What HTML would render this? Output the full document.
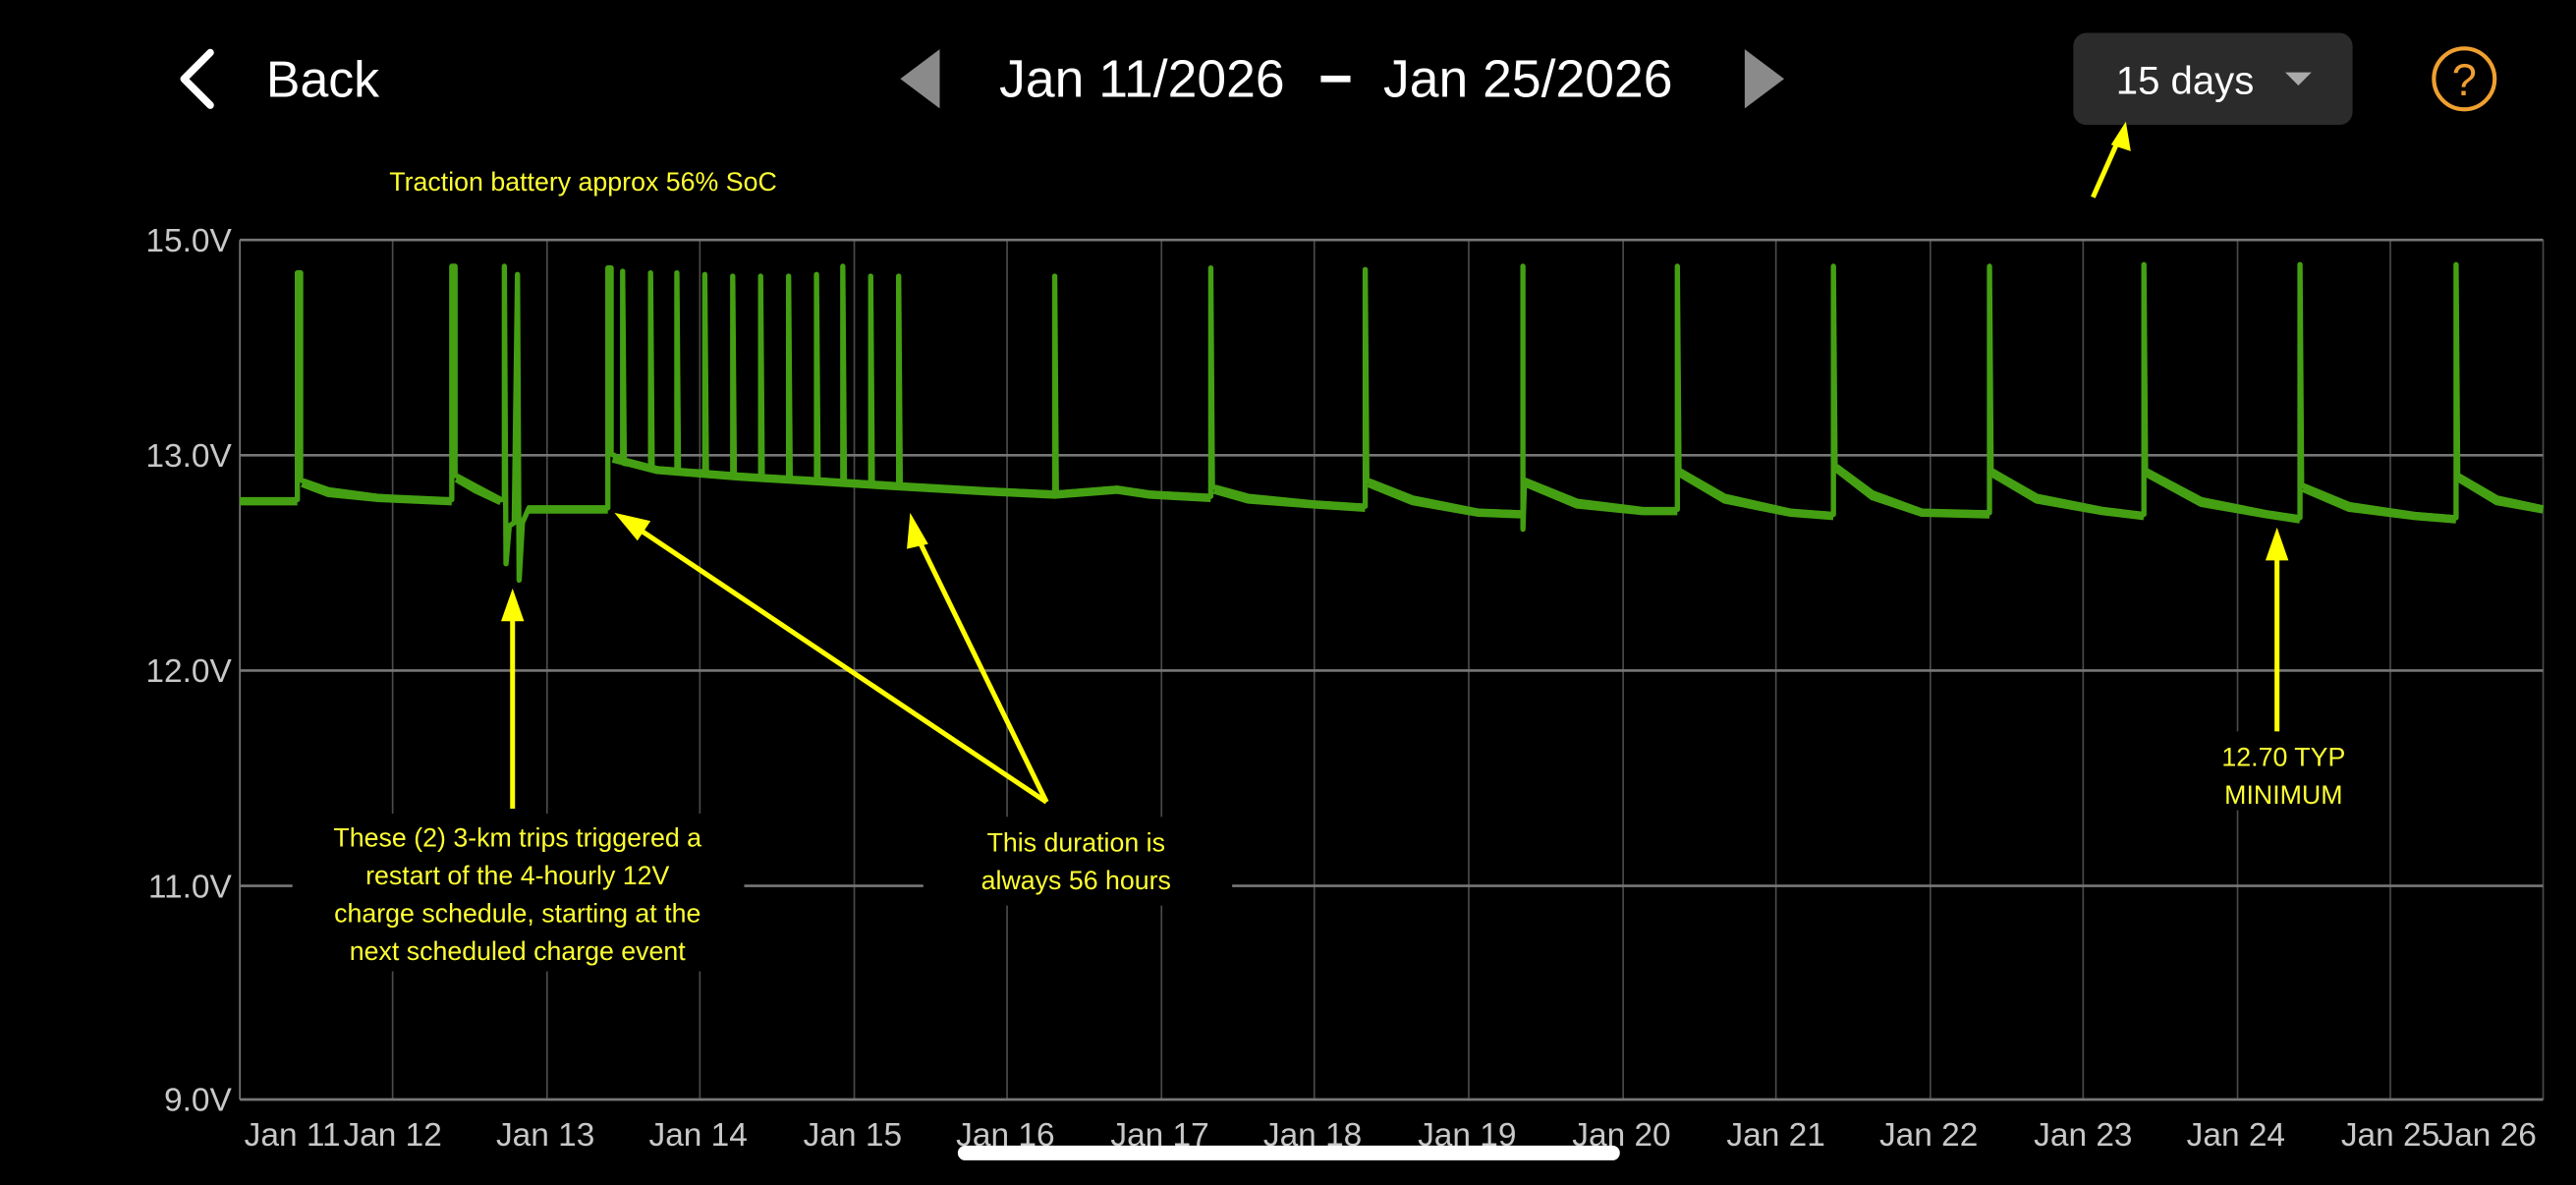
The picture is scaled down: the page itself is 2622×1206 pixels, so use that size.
<!DOCTYPE html>
<html><head><meta charset="utf-8"><style>
html,body{margin:0;padding:0;background:#000;overflow:hidden}
svg{display:block}
text{font-family:"Liberation Sans",sans-serif}
</style></head><body>
<svg width="2622" height="1206" viewBox="0 0 1568 721" preserveAspectRatio="none" xmlns="http://www.w3.org/2000/svg">
<rect width="1568" height="721" fill="#000"/>
<polyline points="128,32 112,48 128,64" fill="none" stroke="#fff" stroke-width="4.5" stroke-linecap="round" stroke-linejoin="round"/>
<text x="162" y="59" fill="#fff" font-size="31">Back</text>
<polygon points="572,30 572,66 548,48" fill="#8a8a8a"/>
<text x="782" y="59" fill="#fff" font-size="32" text-anchor="end">Jan 11/2026</text>
<rect x="804" y="46" width="18" height="4" fill="#fff"/>
<text x="842" y="59" fill="#fff" font-size="32">Jan 25/2026</text>
<polygon points="1062,30 1062,66 1086,48" fill="#8a8a8a"/>
<rect x="1262" y="20" width="170" height="56" rx="8" fill="#2b2b2b"/>
<text x="1288" y="57" fill="#fff" font-size="24">15 days</text>
<polygon points="1391,44 1407,44 1399,52" fill="#aaa"/>
<circle cx="1500" cy="48" r="18.5" fill="none" stroke="#f0a030" stroke-width="2.5"/>
<text x="1500" y="58" fill="#f0a030" font-size="27" text-anchor="middle">?</text>
<text x="237" y="116" fill="#ffff33" font-size="16">Traction battery approx 56% SoC</text>
<g stroke="#4a4a4a" stroke-width="1">
<line x1="239" y1="146" x2="239" y2="669"/><line x1="333" y1="146" x2="333" y2="669"/>
<line x1="426" y1="146" x2="426" y2="669"/><line x1="520" y1="146" x2="520" y2="669"/>
<line x1="613" y1="146" x2="613" y2="669"/><line x1="707" y1="146" x2="707" y2="669"/>
<line x1="800" y1="146" x2="800" y2="669"/><line x1="894" y1="146" x2="894" y2="669"/>
<line x1="988" y1="146" x2="988" y2="669"/><line x1="1081" y1="146" x2="1081" y2="669"/>
<line x1="1175" y1="146" x2="1175" y2="669"/><line x1="1268" y1="146" x2="1268" y2="669"/>
<line x1="1362" y1="146" x2="1362" y2="669"/><line x1="1455" y1="146" x2="1455" y2="669"/>
<line x1="1548" y1="146" x2="1548" y2="669"/>
</g>
<line x1="146" y1="146" x2="146" y2="669" stroke="#777" stroke-width="1"/>
<g stroke="#777" stroke-width="1.6">
<line x1="146" y1="146" x2="1548" y2="146"/><line x1="146" y1="277" x2="1548" y2="277"/>
<line x1="146" y1="408" x2="1548" y2="408"/><line x1="146" y1="539" x2="1548" y2="539"/>
<line x1="146" y1="669" x2="1548" y2="669"/>
</g>
<g fill="#c8c8c8" font-size="20" text-anchor="end">
<text x="141" y="153">15.0V</text><text x="141" y="284">13.0V</text>
<text x="141" y="415">12.0V</text><text x="141" y="546">11.0V</text><text x="141" y="676">9.0V</text>
</g>
<g fill="#c8c8c8" font-size="20" text-anchor="middle">
<text x="178" y="697">Jan 11</text><text x="239" y="697">Jan 12</text><text x="332" y="697">Jan 13</text>
<text x="425" y="697">Jan 14</text><text x="519" y="697">Jan 15</text><text x="612" y="697">Jan 16</text>
<text x="706" y="697">Jan 17</text><text x="799" y="697">Jan 18</text><text x="893" y="697">Jan 19</text>
<text x="987" y="697">Jan 20</text><text x="1081" y="697">Jan 21</text><text x="1174" y="697">Jan 22</text>
<text x="1268" y="697">Jan 23</text><text x="1361" y="697">Jan 24</text><text x="1455" y="697">Jan 25</text>
<text x="1514" y="697">Jan 26</text>
</g>
<g fill="none" stroke="#44a012" stroke-linejoin="round">
<path id="d" stroke-width="3.2" d="M146,304 L181,304 L181,166 L183,166 L183,292 L200,298 L230,302 L260,304 L275,304 L275,162 L277,162 L277,289 L290,296 L305,304 L307,304 L307,162 L308,343 L310,320 L313,318 L315,167 L316,353 L318,318 L322,309 L370,309 L370,163 L372,163 L372,276 L379,280 L379,165 L380,282 L396,284 L396,166 L397,285 L412,286 L412,166 L413,287 L429,287 L429,167 L430,288 L446,289 L446,168 L447,289 L463,290 L463,168 L464,290 L480,291 L480,168 L481,291 L497,292 L497,167 L498,292 L513,293 L513,162 L514,293 L530,294 L530,168 L531,294 L547,295 L547,168 L548,295 L600,298 L642,300 L642,168 L643,300 L680,297 L700,300 L737,302 L737,163 L738,296 L760,302 L800,306 L831,308 L831,164 L832,292 L860,303 L900,311 L927,312 L927,162 L927,322 L928,292 L960,305 L1000,310 L1021,310 L1021,162 L1022,286 L1050,302 L1090,311 L1116,313 L1116,162 L1117,283 L1140,300 L1170,311 L1211,312 L1211,162 L1212,286 L1240,302 L1280,310 L1305,313 L1305,161 L1306,286 L1340,304 L1380,312 L1400,315 L1400,161 L1401,295 L1430,307 L1470,313 L1495,315 L1495,161 L1496,289 L1520,303 L1548,309"/>
<path stroke-width="5" d="M146,305 L181,305 M184,294 L200,300 L230,303 L275,305 M278,291 L290,298 L305,305 M322,310 L370,310 M373,279 L400,286 L450,290 L500,293 L548,296 L600,299 L642,301 L680,298 L700,301 L737,303 M739,298 L760,304 L800,307 L831,309 M833,294 L860,305 L900,312 L927,313 M929,294 L960,307 L1000,311 L1021,311 M1023,288 L1050,304 L1090,312 L1116,314 M1118,285 L1140,302 L1170,312 L1211,313 M1213,288 L1240,304 L1280,311 L1305,314 M1307,288 L1340,306 L1380,313 L1400,316 M1402,297 L1430,309 L1470,314 L1495,316 M1497,291 L1520,305 L1548,310"/>
</g>
<rect x="178" y="495" width="275" height="96" fill="#000"/>
<rect x="562" y="497" width="188" height="54" fill="#000"/>
<rect x="1345" y="445" width="93" height="48" fill="#000"/>
<g fill="#ffff33" font-size="16" text-anchor="middle">
<text x="315" y="515">These (2) 3-km trips triggered a</text>
<text x="315" y="538">restart of the 4-hourly 12V</text>
<text x="315" y="561">charge schedule, starting at the</text>
<text x="315" y="584">next scheduled charge event</text>
<text x="655" y="518">This duration is</text>
<text x="655" y="541">always 56 hours</text>
<text x="1390" y="466">12.70 TYP</text>
<text x="1390" y="489">MINIMUM</text>
</g>
<g stroke="#ffff00" stroke-width="3" fill="#ffff00">
<line x1="1274" y1="120" x2="1290" y2="84"/><polygon points="1294,74 1297,92 1285,88" stroke="none"/>
<line x1="312" y1="492" x2="312" y2="374"/><polygon points="312,358 319,378 305,378" stroke="none"/>
<line x1="637" y1="488" x2="386" y2="320"/><polygon points="374,312 396,317 388,329" stroke="none"/>
<line x1="637" y1="488" x2="558" y2="326"/><polygon points="554,312 565,331 552,334" stroke="none"/>
<line x1="1386" y1="445" x2="1386" y2="337"/><polygon points="1386,321 1393,341 1379,341" stroke="none"/>
</g>
<rect x="583" y="697" width="403" height="9" rx="4.5" fill="#fff"/>
</svg>
</body></html>
